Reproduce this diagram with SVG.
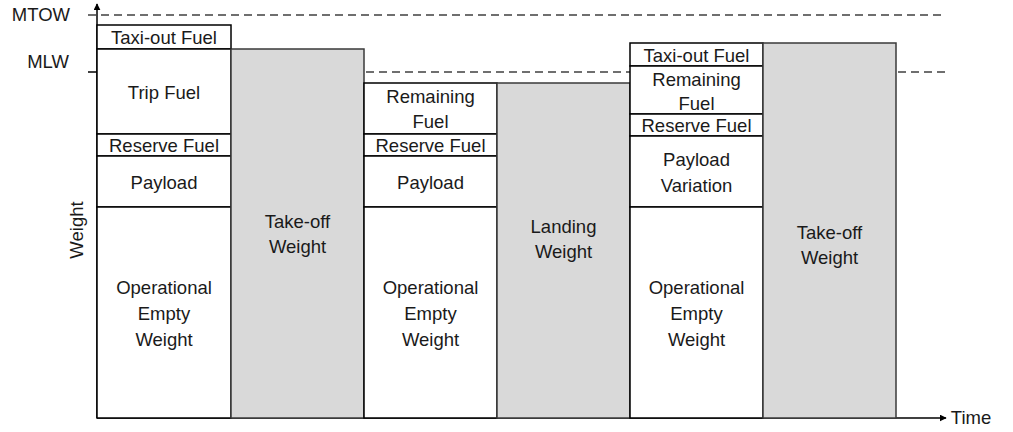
<svg xmlns="http://www.w3.org/2000/svg" width="1013" height="432" viewBox="0 0 1013 432">
<style>
text{font-family:"Liberation Sans",Arial,sans-serif;font-size:18.5px;fill:#1a1a1a;text-anchor:middle}
.lab{text-anchor:end}
.w{fill:#fff;stroke:#000;stroke-width:1.5}
.g{fill:#d9d9d9;stroke:#3a3a3a;stroke-width:1.5}
.dash{stroke:#404040;stroke-width:1.3;stroke-dasharray:8 5;fill:none}
.axis{stroke:#000;stroke-width:1.5;fill:none}
</style>
<defs>
<marker id="arr" viewBox="0 0 10 10" refX="9" refY="5" markerWidth="7" markerHeight="7" markerUnits="userSpaceOnUse" orient="auto">
<path d="M0,0 L10,5 L0,10 z" fill="#000"/>
</marker>
</defs>
<rect width="1013" height="432" fill="#fff"/>
<g id="connectors">
<line class="dash" x1="88" y1="15" x2="945" y2="15"/>
<line class="dash" x1="366" y1="72" x2="630" y2="72"/>
<line class="dash" x1="898" y1="72" x2="945" y2="72"/>
<line class="axis" x1="88" y1="72" x2="97" y2="72"/>
<line class="axis" x1="97" y1="418" x2="97" y2="4" marker-end="url(#arr)"/>
<line class="axis" x1="97" y1="418" x2="946" y2="418" marker-end="url(#arr)"/>
</g>
<g id="axis-labels">
<text class="lab" x="70" y="21">MTOW</text>
<text class="lab" x="69" y="68">MLW</text>
<text x="971" y="424">Time</text>
<text transform="translate(83,230) rotate(-90)">Weight</text>
</g>
<g id="col1">
<rect class="w" x="97" y="25" width="134" height="24"/>
<text x="164" y="44">Taxi-out Fuel</text>
<rect class="w" x="97" y="49" width="134" height="85"/>
<text x="164" y="99">Trip Fuel</text>
<rect class="w" x="97" y="134" width="134" height="22"/>
<text x="164" y="152">Reserve Fuel</text>
<rect class="w" x="97" y="156" width="134" height="51"/>
<text x="164" y="189">Payload</text>
<rect class="w" x="97" y="207" width="134" height="211"/>
<text x="164" y="294">Operational</text>
<text x="164" y="320">Empty</text>
<text x="164" y="346">Weight</text>
</g>
<g id="col2">
<rect class="g" x="231" y="49" width="133" height="369"/>
<text x="297.5" y="228">Take-off</text>
<text x="297.5" y="253">Weight</text>
</g>
<g id="col3">
<rect class="w" x="364" y="83" width="133" height="51"/>
<text x="430.5" y="103">Remaining</text>
<text x="430.5" y="128">Fuel</text>
<rect class="w" x="364" y="134" width="133" height="22"/>
<text x="430.5" y="152">Reserve Fuel</text>
<rect class="w" x="364" y="156" width="133" height="51"/>
<text x="430.5" y="189">Payload</text>
<rect class="w" x="364" y="207" width="133" height="211"/>
<text x="430.5" y="294">Operational</text>
<text x="430.5" y="320">Empty</text>
<text x="430.5" y="346">Weight</text>
</g>
<g id="col4">
<rect class="g" x="497" y="83" width="133" height="335"/>
<text x="563.5" y="233">Landing</text>
<text x="563.5" y="258">Weight</text>
</g>
<g id="col5">
<rect class="w" x="630" y="43" width="133" height="23"/>
<text x="696.5" y="62">Taxi-out Fuel</text>
<rect class="w" x="630" y="66" width="133" height="48"/>
<text x="696.5" y="86">Remaining</text>
<text x="696.5" y="110">Fuel</text>
<rect class="w" x="630" y="114" width="133" height="22"/>
<text x="696.5" y="132">Reserve Fuel</text>
<rect class="w" x="630" y="136" width="133" height="71"/>
<text x="696.5" y="166">Payload</text>
<text x="696.5" y="192">Variation</text>
<rect class="w" x="630" y="207" width="133" height="211"/>
<text x="696.5" y="294">Operational</text>
<text x="696.5" y="320">Empty</text>
<text x="696.5" y="346">Weight</text>
</g>
<g id="col6">
<rect class="g" x="763" y="43" width="133" height="375"/>
<text x="829.5" y="239">Take-off</text>
<text x="829.5" y="264">Weight</text>
</g>
</svg>
